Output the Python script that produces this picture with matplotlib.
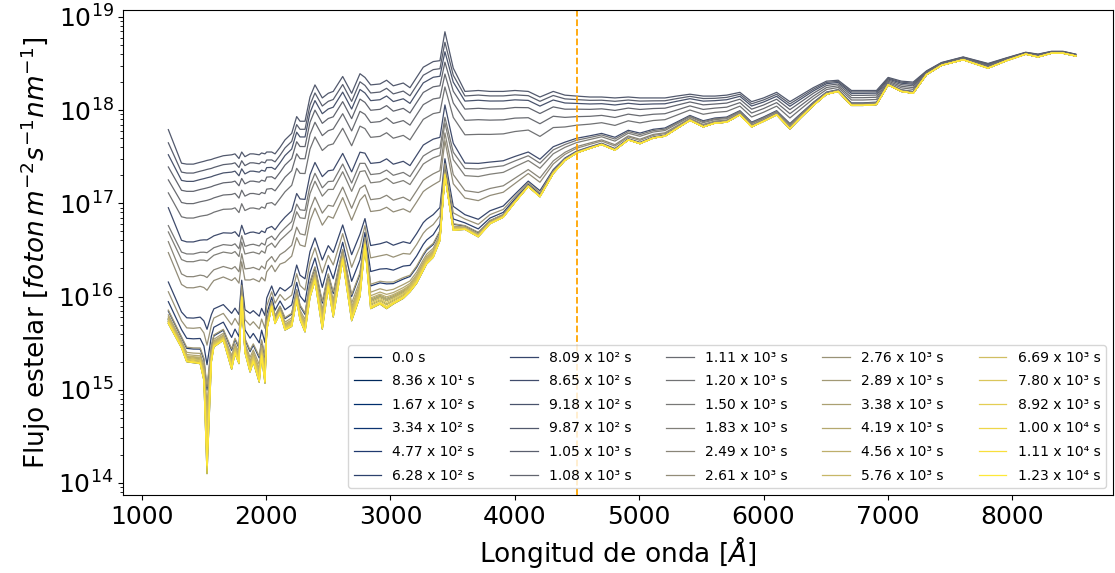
import numpy as np
import matplotlib
matplotlib.use("Agg")
import matplotlib.pyplot as plt

# wavelength grid [A]
wl = np.array([1214, 1320, 1362, 1415, 1470, 1500, 1525, 1560, 1580, 1656,
               1723, 1750, 1782, 1804, 1830, 1871, 1897, 1945, 1964, 1991,
               2005, 2045, 2072, 2112, 2152, 2206, 2246, 2273, 2313, 2353,
               2393, 2452, 2500, 2540, 2616, 2688, 2755, 2795, 2841, 2916,
               2969, 3023, 3103, 3157, 3210, 3264, 3291, 3344, 3398, 3438,
               3505, 3599, 3706, 3800, 3907, 4001, 4108, 4202, 4309, 4403,
               4497, 4604, 4698, 4805, 4912, 5006, 5113, 5207, 5301, 5408,
               5515, 5609, 5703, 5810, 5904, 6000, 6105, 6212, 6300, 6400,
               6506, 6600, 6707, 6800, 6908, 7002, 7109, 7203, 7310, 7431,
               7605, 7805, 7953, 8108, 8207, 8315, 8408, 8510])

# log10 of the quiescent spectrum
log_quiet = np.array([15.71, 15.45, 15.30, 15.29, 15.28, 15.10, 14.10, 15.30, 15.46, 15.53,
                      15.22, 15.39, 15.28, 15.99, 15.40, 15.19, 15.30, 15.08, 15.36, 15.07,
                      15.64, 15.89, 15.71, 15.82, 15.64, 15.68, 15.96, 15.75, 15.62, 15.99,
                      16.17, 15.65, 16.10, 15.78, 16.39, 15.74, 16.00, 16.55, 15.87, 15.92,
                      15.87, 15.92, 15.98, 16.05, 16.14, 16.28, 16.35, 16.42, 16.60, 17.30,
                      16.71, 16.72, 16.64, 16.78, 16.85, 17.01, 17.18, 17.07, 17.32, 17.46,
                      17.54, 17.59, 17.63, 17.57, 17.68, 17.64, 17.70, 17.72, 17.80, 17.89,
                      17.82, 17.86, 17.87, 17.95, 17.82, 17.88, 17.95, 17.80, 17.92, 18.05,
                      18.17, 18.20, 18.05, 18.05, 18.06, 18.27, 18.20, 18.18, 18.38, 18.48,
                      18.54, 18.45, 18.53, 18.60, 18.57, 18.61, 18.61, 18.58])

# log10 of the spectrum at flare maximum
log_peak = np.array([17.79, 17.43, 17.42, 17.42, 17.44, 17.45, 17.46, 17.47, 17.48, 17.51,
                     17.52, 17.53, 17.48, 17.55, 17.50, 17.53, 17.53, 17.52, 17.54, 17.53,
                     17.55, 17.55, 17.53, 17.60, 17.68, 17.75, 17.93, 17.88, 17.88, 18.14,
                     18.27, 18.13, 18.18, 18.20, 18.36, 18.18, 18.39, 18.35, 18.27, 18.28,
                     18.32, 18.26, 18.29, 18.24, 18.35, 18.46, 18.48, 18.52, 18.53, 18.84,
                     18.45, 18.20, 18.21, 18.20, 18.20, 18.21, 18.20, 18.14, 18.20, 18.16,
                     18.15, 18.14, 18.14, 18.13, 18.14, 18.13, 18.13, 18.13, 18.15, 18.17,
                     18.15, 18.15, 18.16, 18.19, 18.09, 18.13, 18.19, 18.09, 18.16, 18.24,
                     18.31, 18.32, 18.21, 18.21, 18.21, 18.35, 18.31, 18.30, 18.42, 18.51,
                     18.57, 18.50, 18.56, 18.62, 18.60, 18.63, 18.63, 18.60])

# relative weight of the slower (optical) part of the flare excess
w_opt = np.array([0.05, 0.5, 0.5, 0.5, 0.5, 0.5, 0.5, 0.5, 0.5, 0.5,
                  0.5, 0.5, 0.5, 0.5, 0.5, 0.5, 0.5, 0.5, 0.5, 0.5,
                  0.6, 0.6, 0.6, 0.6, 0.6, 0.6, 0.6, 0.6, 0.6, 0.6,
                  0.6, 0.6, 0.6, 0.6, 0.6, 0.6, 0.6, 0.6, 0.6, 0.6,
                  0.6, 0.6, 0.6, 0.6, 0.6, 0.6, 0.6, 0.6, 0.6, 0.3,
                  0.7, 1.0, 1.0, 1.0, 1.0, 1.0, 1.0, 1.0, 1.0, 1.0,
                  1.0, 1.0, 1.0, 1.0, 1.0, 1.0, 1.0, 1.0, 1.0, 1.0,
                  1.0, 1.0, 1.0, 1.0, 1.0, 1.0, 1.0, 1.0, 1.0, 1.0,
                  1.0, 1.0, 1.0, 1.0, 1.0, 1.0, 1.0, 1.0, 1.0, 1.0,
                  1.0, 1.0, 1.0, 1.0, 1.0, 1.0, 1.0, 1.0])

# time of each spectrum [s]
times = [0.0, 83.6, 167, 334, 477, 628, 809, 865, 918, 987,
         1050, 1080, 1110, 1200, 1500, 1830, 2490, 2610, 2760, 2890,
         3380, 4190, 4560, 5760, 6690, 7800, 8920, 10000, 11100, 12300]

# flare amplitude of each spectrum (fast and slow parts)
amp_fast = [0.0, 0.0004, 0.0008, 0.001, 0.003, 0.006, 0.015, 0.138, 0.521, 1.0,
            0.711, 0.38, 0.273, 0.197, 0.084, 0.071, 0.055, 0.040, 0.010, 0.0033,
            0.002, 0.0015, 0.0012, 0.001, 0.0008, 0.0006, 0.0004, 0.0002, 0.0001, 0.0]
amp_slow = [0.0, 0.0, 0.0, 0.0, 0.0, 0.0, 0.0, 0.004, 0.259, 0.0,
            0.179, 0.254, 0.199, 0.123, 0.036, 0.024, 0.0, 0.0, 0.0, 0.0,
            0.0, 0.0, 0.0, 0.0, 0.0, 0.0, 0.0, 0.0, 0.0, 0.0]

wl_cut = 4500

SUP = str.maketrans('0123456789-', '⁰¹²³⁴⁵⁶⁷⁸⁹⁻')


def time_label(t):
    if t == 0:
        return '0.0 s'
    e = int(np.floor(np.log10(t)))
    m = t / 10**e
    return '%.2f x 10%s s' % (m, str(e).translate(SUP))


quiet = 10**log_quiet
excess = 10**log_peak - quiet

fig = plt.figure(figsize=(11.15, 5.73), dpi=100)
ax = fig.add_subplot(111)
fig.subplots_adjust(left=0.1106, right=0.998, bottom=0.136, top=0.982)

colors = plt.cm.cividis(np.linspace(0, 1, len(times)))
for i, t in enumerate(times):
    flux = quiet + excess * (amp_fast[i] + amp_slow[i] * w_opt)
    ax.plot(wl, flux, color=colors[i], lw=0.9, label=time_label(t))

ax.axvline(wl_cut, color='orange', ls='--', lw=1.3)

ax.set_yscale('log')
ax.set_xlim(852, 8808)
ax.set_ylim(10**13.87, 10**19.07)
ax.tick_params(axis='both', labelsize=18)
ax.set_xlabel(r'Longitud de onda [$\AA$]', fontsize=19)
ax.set_ylabel(r'Flujo estelar [$foton\,m^{-2}s^{-1}nm^{-1}$]', fontsize=19)
ax.legend(ncol=5, loc='lower right', fontsize=10,
          labelspacing=0.69, columnspacing=2.5)

fig.savefig('out.png', dpi=100)
